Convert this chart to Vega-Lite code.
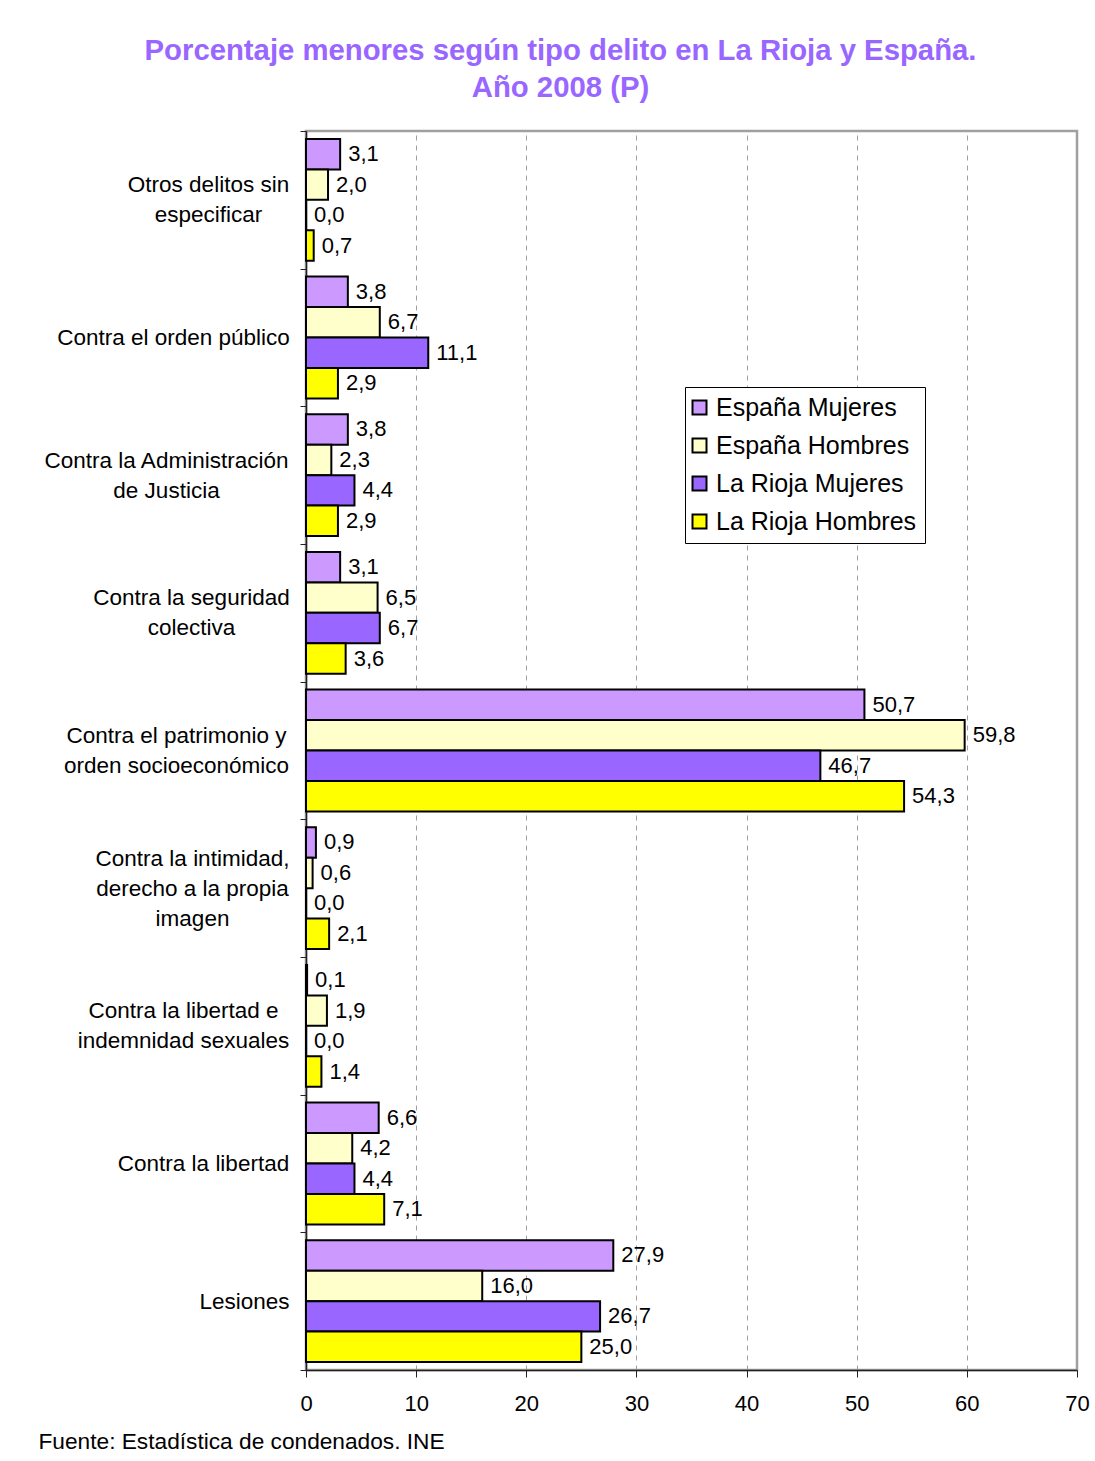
{
  "$schema": "https://vega.github.io/schema/vega-lite/v6.json",
  "autosize": "none",
  "width": 771,
  "height": 1239,
  "padding": {"left": 306, "top": 131, "right": 18, "bottom": 91},
  "background": "white",
  "title": {
    "text": ["Porcentaje menores según tipo delito en La Rioja y España.", "Año 2008 (P)"],
    "color": "#9966FF",
    "font": "Liberation Sans",
    "fontSize": 29.3,
    "fontWeight": "bold",
    "lineHeight": 37,
    "anchor": "middle",
    "dx": -131,
    "offset": 17
  },
  "config": {
    "locale": {"number": {"decimal": ",", "thousands": ".", "grouping": [3], "currency": ["", " €"]}},
    "view": {"stroke": "#A0A0A0", "strokeWidth": 2.5},
    "font": "Liberation Sans"
  },
  "data": {
    "values": [
      {"delito": "Otros delitos sin|especificar", "serie": "España Mujeres", "valor": 3.1},
      {"delito": "Otros delitos sin|especificar", "serie": "España Hombres", "valor": 2.0},
      {"delito": "Otros delitos sin|especificar", "serie": "La Rioja Mujeres", "valor": 0.0},
      {"delito": "Otros delitos sin|especificar", "serie": "La Rioja Hombres", "valor": 0.7},
      {"delito": "Contra el orden público", "serie": "España Mujeres", "valor": 3.8},
      {"delito": "Contra el orden público", "serie": "España Hombres", "valor": 6.7},
      {"delito": "Contra el orden público", "serie": "La Rioja Mujeres", "valor": 11.1},
      {"delito": "Contra el orden público", "serie": "La Rioja Hombres", "valor": 2.9},
      {"delito": "Contra la Administración|de Justicia", "serie": "España Mujeres", "valor": 3.8},
      {"delito": "Contra la Administración|de Justicia", "serie": "España Hombres", "valor": 2.3},
      {"delito": "Contra la Administración|de Justicia", "serie": "La Rioja Mujeres", "valor": 4.4},
      {"delito": "Contra la Administración|de Justicia", "serie": "La Rioja Hombres", "valor": 2.9},
      {"delito": "Contra la seguridad|colectiva", "serie": "España Mujeres", "valor": 3.1},
      {"delito": "Contra la seguridad|colectiva", "serie": "España Hombres", "valor": 6.5},
      {"delito": "Contra la seguridad|colectiva", "serie": "La Rioja Mujeres", "valor": 6.7},
      {"delito": "Contra la seguridad|colectiva", "serie": "La Rioja Hombres", "valor": 3.6},
      {"delito": "Contra el patrimonio y|orden socioeconómico", "serie": "España Mujeres", "valor": 50.7},
      {"delito": "Contra el patrimonio y|orden socioeconómico", "serie": "España Hombres", "valor": 59.8},
      {"delito": "Contra el patrimonio y|orden socioeconómico", "serie": "La Rioja Mujeres", "valor": 46.7},
      {"delito": "Contra el patrimonio y|orden socioeconómico", "serie": "La Rioja Hombres", "valor": 54.3},
      {"delito": "Contra la intimidad,|derecho a la propia|imagen", "serie": "España Mujeres", "valor": 0.9},
      {"delito": "Contra la intimidad,|derecho a la propia|imagen", "serie": "España Hombres", "valor": 0.6},
      {"delito": "Contra la intimidad,|derecho a la propia|imagen", "serie": "La Rioja Mujeres", "valor": 0.0},
      {"delito": "Contra la intimidad,|derecho a la propia|imagen", "serie": "La Rioja Hombres", "valor": 2.1},
      {"delito": "Contra la libertad e|indemnidad sexuales", "serie": "España Mujeres", "valor": 0.1},
      {"delito": "Contra la libertad e|indemnidad sexuales", "serie": "España Hombres", "valor": 1.9},
      {"delito": "Contra la libertad e|indemnidad sexuales", "serie": "La Rioja Mujeres", "valor": 0.0},
      {"delito": "Contra la libertad e|indemnidad sexuales", "serie": "La Rioja Hombres", "valor": 1.4},
      {"delito": "Contra la libertad", "serie": "España Mujeres", "valor": 6.6},
      {"delito": "Contra la libertad", "serie": "España Hombres", "valor": 4.2},
      {"delito": "Contra la libertad", "serie": "La Rioja Mujeres", "valor": 4.4},
      {"delito": "Contra la libertad", "serie": "La Rioja Hombres", "valor": 7.1},
      {"delito": "Lesiones", "serie": "España Mujeres", "valor": 27.9},
      {"delito": "Lesiones", "serie": "España Hombres", "valor": 16.0},
      {"delito": "Lesiones", "serie": "La Rioja Mujeres", "valor": 26.7},
      {"delito": "Lesiones", "serie": "La Rioja Hombres", "valor": 25.0}
    ]
  },
  "encoding": {
    "y": {
      "field": "delito",
      "type": "nominal",
      "sort": null,
      "scale": {"paddingInner": 0, "paddingOuter": 0},
      "axis": {
        "title": null,
        "labelExpr": "split(datum.label, '|')",
        "labelFont": "Liberation Sans",
        "labelFontSize": 22.5,
        "labelColor": "black",
        "labelLineHeight": 30,
        "labelLimit": 400,
        "labelAlign": "center",
        "labelBaseline": "middle",
        "labelPadding": {
          "condition": [
            {"test": "datum && datum.value && indexof(datum.value, 'Otros') >= 0", "value": 92},
            {"test": "datum && datum.value && indexof(datum.value, 'orden público') >= 0", "value": 127},
            {"test": "datum && datum.value && indexof(datum.value, 'Administración') >= 0", "value": 134},
            {"test": "datum && datum.value && indexof(datum.value, 'seguridad') >= 0", "value": 109},
            {"test": "datum && datum.value && indexof(datum.value, 'patrimonio') >= 0", "value": 124},
            {"test": "datum && datum.value && indexof(datum.value, 'intimidad') >= 0", "value": 108},
            {"test": "datum && datum.value && indexof(datum.value, 'sexuales') >= 0", "value": 117},
            {"test": "datum && datum.value == 'Contra la libertad'", "value": 97}
          ],
          "value": 56
        },
        "labelOffset": {
          "condition": [
            {"test": "datum && datum.value && indexof(datum.value, 'intimidad') >= 0", "value": -30},
            {"test": "datum && datum.value && indexof(datum.value, '|') >= 0", "value": -15}
          ],
          "value": 0
        },
        "tickBand": "extent",
        "tickSize": 6,
        "tickColor": "#222222",
        "domainColor": "#222222",
        "domainWidth": 1.5,
        "grid": false
      }
    },
    "yOffset": {
      "field": "serie",
      "type": "nominal",
      "sort": ["España Mujeres", "España Hombres", "La Rioja Mujeres", "La Rioja Hombres"],
      "scale": {"paddingInner": 0, "paddingOuter": 0.26}
    },
    "x": {
      "field": "valor",
      "type": "quantitative",
      "scale": {"domain": [0, 70], "nice": false, "zero": true},
      "axis": {
        "values": [0, 10, 20, 30, 40, 50, 60, 70],
        "format": "d",
        "labelFont": "Liberation Sans",
        "labelFontSize": 22,
        "labelColor": "black",
        "labelPadding": 16,
        "labelFlush": false,
        "tickSize": 7,
        "tickColor": "#222222",
        "domainColor": "#222222",
        "domainWidth": 1.5,
        "grid": true,
        "gridDash": [5, 5],
        "gridColor": "#A0A0A0",
        "gridWidth": 1,
        "title": "Fuente: Estadística de condenados. INE",
        "titleFont": "Liberation Sans",
        "titleFontSize": 22.7,
        "titleFontWeight": "normal",
        "titleColor": "black",
        "titleAnchor": "start",
        "titleAlign": "left",
        "titleBaseline": "middle",
        "titleX": -268,
        "titleY": 71
      }
    }
  },
  "layer": [
    {
      "mark": {"type": "bar", "stroke": "black", "strokeWidth": 2},
      "encoding": {
        "color": {
          "field": "serie",
          "type": "nominal",
          "sort": ["España Mujeres", "España Hombres", "La Rioja Mujeres", "La Rioja Hombres"],
          "scale": {
            "domain": ["España Mujeres", "España Hombres", "La Rioja Mujeres", "La Rioja Hombres"],
            "range": ["#CC99FF", "#FFFFCC", "#9966FF", "#FFFF00"]
          },
          "legend": {
            "title": null,
            "orient": "none",
            "legendX": 379,
            "legendY": 256,
            "symbolType": "square",
            "symbolSize": 196,
            "symbolStrokeColor": "black",
            "symbolStrokeWidth": 2,
            "symbolOpacity": 1,
            "symbolOffset": -6,
            "labelFont": "Liberation Sans",
            "labelFontSize": 25,
            "labelColor": "black",
            "labelOffset": 4,
            "rowPadding": 12,
            "padding": 8,
            "strokeColor": "black",
            "fillColor": "white",
            "labelLimit": 400
          }
        }
      }
    },
    {
      "mark": {"type": "text", "align": "left", "baseline": "middle", "dx": 8, "fontSize": 22, "font": "Liberation Sans", "color": "black"},
      "encoding": {
        "text": {"field": "valor", "type": "quantitative", "format": ".1f"}
      }
    }
  ]
}
